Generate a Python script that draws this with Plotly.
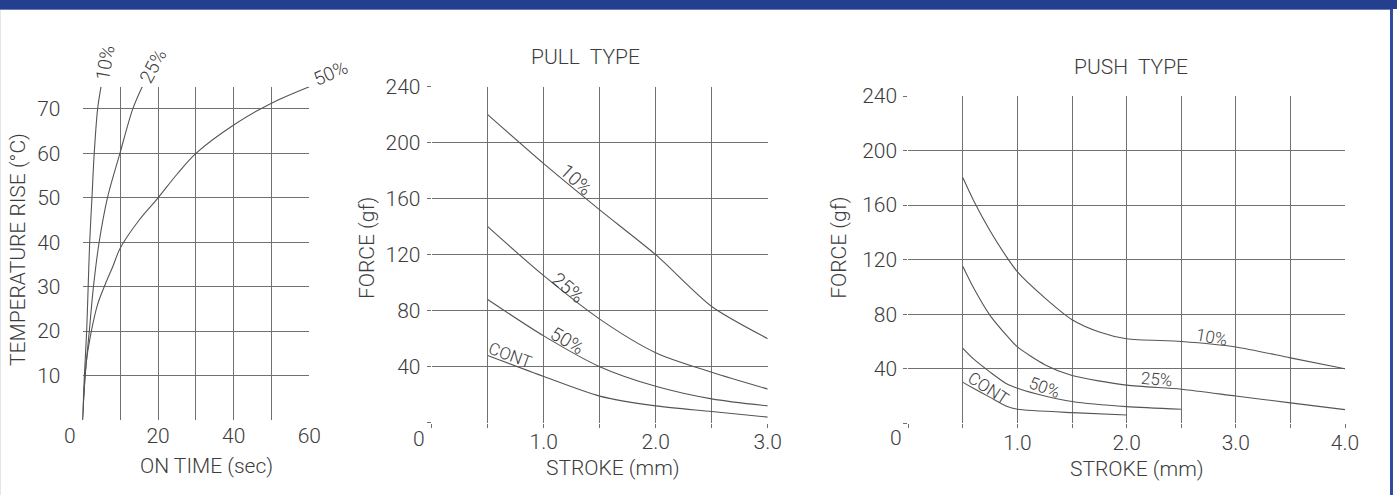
import plotly.graph_objects as go

W, H = 1397, 495

# ---------------- data ----------------
# Chart 1: temperature rise vs on-time
temp_10 = [0, 10, 20, 30, 40, 50, 60, 70, 75]
t_10 = [0, 0.5, 1.1, 1.5, 1.9, 2.5, 3.1, 4.0, 4.9]
temp_25 = [0, 10, 20, 30, 40, 50, 60, 70, 75]
t_25 = [0, 0.7, 1.8, 2.9, 4.4, 6.6, 9.9, 13.3, 15.8]
t_50 = [0, 1, 2, 4, 6, 8, 10, 15, 20, 25, 30, 40, 50, 60]
temp_50 = [0, 13, 18.5, 26, 30.5, 34.5, 38.7, 45, 50, 55.3, 60, 66.4, 71.3, 75]

# Chart 2: pull type force vs stroke
pull_x = [0.5, 1.0, 1.5, 2.0, 2.5, 3.0]
pull_10 = [220, 185, 152, 120, 83, 60]
pull_25 = [140, 105, 74, 50, 36, 24]
pull_50 = [88, 62, 40, 26, 17, 12]
pull_cont = [48, 33, 19, 12, 8, 4]

# Chart 3: push type force vs stroke
push_x_10 = [0.5, 0.6, 0.75, 0.9, 1.0, 1.25, 1.5, 1.75, 2.0, 2.5, 3.0, 3.5, 4.0]
push_10 = [180, 163, 141, 122, 111, 92, 76, 67, 62, 60, 56, 48, 40]
push_x_25 = [0.5, 0.6, 0.75, 0.9, 1.0, 1.25, 1.5, 2.0, 2.5, 3.0, 3.5, 4.0]
push_25 = [115, 99, 79, 64.5, 56, 43, 35, 28, 25, 20, 15, 10]
push_x_50 = [0.5, 0.6, 0.75, 0.9, 1.0, 1.25, 1.5, 2.0, 2.5]
push_50 = [55, 47, 37.5, 29, 25.7, 20, 16, 12.2, 10.3]
push_x_cont = [0.5, 0.6, 0.75, 0.9, 1.0, 1.5, 2.0]
push_cont = [30, 25.5, 19, 12.5, 10.3, 7.8, 6.1]

temp_ticks = [10, 20, 30, 40, 50, 60, 70]
force_ticks = [40, 80, 120, 160, 200, 240]

# ---------------- styling ----------------
FONT = "Roboto"
TXT = "#3c3c3c"
GRID = "#707070"
CURVE = "#555555"
FS = 21


def px_x(p):
    return p / W


def px_y(p):
    return 1 - p / H


fig = go.Figure()


def add_curve(x, y, xa, ya, sm=0.9):
    fig.add_trace(go.Scatter(x=x, y=y, mode="lines", xaxis=xa, yaxis=ya,
                             line=dict(color=CURVE, width=1.1, shape="spline", smoothing=sm),
                             hoverinfo="skip", showlegend=False))


add_curve(t_10, temp_10, "x", "y")
add_curve(t_25, temp_25, "x", "y")
add_curve(t_50, temp_50, "x", "y")

add_curve(pull_x, pull_10, "x2", "y2", 0.7)
add_curve(pull_x, pull_25, "x2", "y2", 0.8)
add_curve(pull_x, pull_50, "x2", "y2", 0.8)
add_curve(pull_x, pull_cont, "x2", "y2", 0.8)

add_curve(push_x_10, push_10, "x3", "y3", 0.7)
add_curve(push_x_25, push_25, "x3", "y3", 0.7)
add_curve(push_x_50, push_50, "x3", "y3", 0.7)
add_curve(push_x_cont, push_cont, "x3", "y3", 0.6)

tickfont = dict(family=FONT, size=FS, color=TXT, weight=300)

common = dict(showline=False, zeroline=False, showgrid=True, gridcolor=GRID, gridwidth=1,
              tickfont=tickfont, fixedrange=True, automargin=False)

fig.update_layout(
    width=W, height=H,
    margin=dict(l=0, r=0, t=0, b=0, pad=0, autoexpand=False),
    paper_bgcolor="white", plot_bgcolor="white",
    showlegend=False,
    # chart 1
    xaxis=dict(common, domain=[px_x(82.5), px_x(309.3)], range=[0, 60],
               tickvals=[0, 10, 20, 30, 40, 50, 60], ticktext=["", "", "20", "", "40", "", "60"],
               ticks="", ticklabelstandoff=1, anchor="y"),
    yaxis=dict(common, domain=[px_y(420), px_y(86.7)], range=[0, 75],
               tickvals=[0] + temp_ticks, ticktext=[""] + [str(v) for v in temp_ticks],
               ticks="", ticklabelstandoff=21, anchor="x"),
    # chart 2
    xaxis2=dict(common, domain=[px_x(431.7), px_x(767.7)], range=[0, 3],
                tickvals=[0, 0.5, 1.0, 1.5, 2.0, 2.5, 3.0],
                ticktext=["", "", "1.0", "", "2.0", "", "3.0"],
                ticks="outside", ticklen=4, tickcolor=GRID, ticklabelstandoff=-4, anchor="y2"),
    yaxis2=dict(common, domain=[px_y(422.7), px_y(86.7)], range=[0, 240],
                tickvals=[0] + force_ticks, ticktext=[""] + [str(v) for v in force_ticks],
                ticks="outside", ticklen=4, tickcolor=GRID, ticklabelstandoff=2, anchor="x2"),
    # chart 3
    xaxis3=dict(common, domain=[px_x(908.3), px_x(1345)], range=[0, 4],
                tickvals=[0, 0.5, 1.0, 1.5, 2.0, 2.5, 3.0, 3.5, 4.0],
                ticktext=["", "", "1.0", "", "2.0", "", "3.0", "", "4.0"],
                ticks="outside", ticklen=4, tickcolor=GRID, ticklabelstandoff=-4, anchor="y3"),
    yaxis3=dict(common, domain=[px_y(423.3), px_y(96)], range=[0, 240],
                tickvals=[0] + force_ticks, ticktext=[""] + [str(v) for v in force_ticks],
                ticks="outside", ticklen=4, tickcolor=GRID, ticklabelstandoff=2, anchor="x3"),
)

# frame borders
shapes = [
    dict(type="rect", xref="paper", yref="paper", x0=0, x1=1, y0=px_y(9), y1=1,
         fillcolor="#233F8D", line=dict(width=0), layer="above"),
    dict(type="rect", xref="paper", yref="paper", x0=0, x1=px_x(1393), y0=px_y(10), y1=px_y(9),
         fillcolor="#6B7CB8", line=dict(width=0), layer="above"),
    dict(type="rect", xref="paper", yref="paper", x0=px_x(1390), x1=px_x(1393), y0=0, y1=px_y(9),
         fillcolor="#2E4B9F", line=dict(width=0), layer="above"),
    dict(type="rect", xref="paper", yref="paper", x0=0, x1=px_x(1), y0=0, y1=px_y(10),
         fillcolor="#E4E4EC", line=dict(width=0), layer="above"),
]
fig.update_layout(shapes=shapes)

ann = []


def text(x, y, s, xref="paper", yref="paper", angle=0, size=FS, xshift=0, yshift=0):
    ann.append(dict(x=x, y=y, xref=xref, yref=yref, text=s, showarrow=False,
                    textangle=angle, xanchor="center", yanchor="middle",
                    xshift=xshift, yshift=yshift,
                    font=dict(family=FONT, size=size, color=TXT, weight=300)))


# origin "0" labels
text(0, 0, "0", "x", "y", xshift=-12.5, yshift=-16)
text(0, 0, "0", "x2", "y2", xshift=-12.5, yshift=-16)
text(0, 0, "0", "x3", "y3", xshift=-12.5, yshift=-15)

# axis titles
text(px_x(206), px_y(466), "ON TIME (sec)")
text(px_x(18), px_y(250), "TEMPERATURE RISE (°C)", angle=-90)
text(px_x(613), px_y(468), "STROKE (mm)")
text(px_x(367), px_y(248), "FORCE (gf)", angle=-90)
text(px_x(1137), px_y(468.5), "STROKE (mm)")
text(px_x(838.3), px_y(247.5), "FORCE (gf)", angle=-90)

# chart titles
text(px_x(585), px_y(57.3), "PULL  TYPE")
text(px_x(1131), px_y(66.7), "PUSH  TYPE")

# curve labels chart 1
text(px_x(105), px_y(63.3), "10%", angle=-80, size=19)
text(px_x(153), px_y(66.7), "25%", angle=-62, size=19)
text(px_x(330), px_y(73.3), "50%", angle=-24, size=19)

# curve labels pull
text(px_x(576), px_y(179), "10%", angle=42, size=19)
text(px_x(568), px_y(287), "25%", angle=40, size=19)
text(px_x(567), px_y(340), "50%", angle=30, size=19)
text(px_x(510), px_y(355), "CONT", angle=20, size=17)

# curve labels push
text(px_x(1211), px_y(336.7), "10%", angle=10, size=17)
text(px_x(1156), px_y(379.3), "25%", angle=5, size=17)
text(px_x(1044), px_y(386.7), "50%", angle=20, size=17)
text(px_x(988.3), px_y(388.3), "CONT", angle=33, size=17)

fig.update_layout(annotations=ann)

pin = ("var d=document.getElementById('{plot_id}');"
       "d.style.position='fixed';d.style.top='0px';d.style.left='0px';"
       "document.documentElement.style.overflow='hidden';"
       "document.body.style.margin='0';document.body.style.overflow='hidden';")

fig.write_html("out.html", config={"displayModeBar": False, "staticPlot": True},
               post_script=pin)
